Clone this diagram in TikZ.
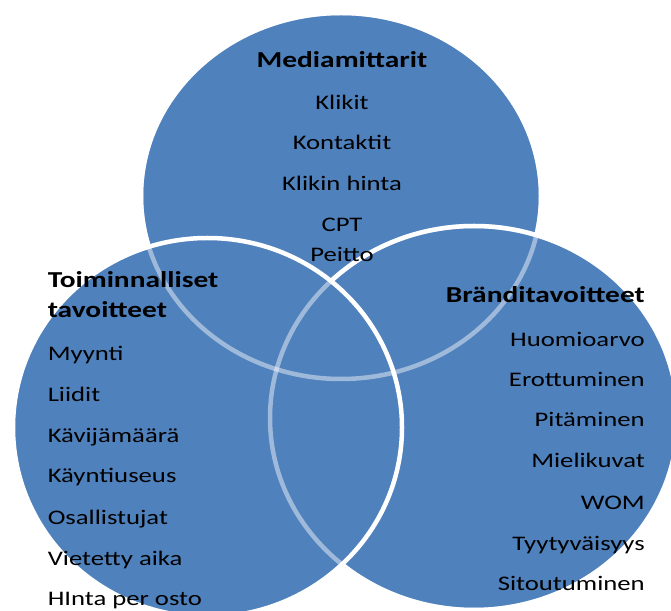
\documentclass[tikz,border=0pt]{standalone}
\usepackage{fontspec}
\setmainfont{Carlito}[FakeStretch=1.29]
\definecolor{vennblue}{HTML}{4F81BD}
\begin{document}
\begin{tikzpicture}[x=1pt,y=1pt,line width=4.5pt]
\tikzset{venn disc/.style={fill=vennblue,draw=white},
  rim style/.style={draw=white,draw opacity=.45},
  item style/.style={font=\fontsize{20.7}{24}\selectfont,inner sep=0pt},
  head style/.style={item style,font=\fontsize{22.8}{26}\selectfont\bfseries}}
\clip (0,0) rectangle (671,610);
% the three sets, top first
\path[venn disc] (341,414) ellipse [x radius=200,y radius=183];
\path[venn disc] (474,192) ellipse [x radius=204,y radius=192];
\path[venn disc] (207.5,182.5) ellipse [x radius=194.5,y radius=189.5];
% hidden rims show through
\path[rim style] (341,414) ellipse [x radius=200,y radius=183];
\path[rim style] (474,192) ellipse [x radius=204,y radius=192];
% Mediamittarit
\node[head style,anchor=base] (media) at (342,542) {Mediamittarit};
\node[item style,anchor=base] (klikit) at (342,500) {Klikit};
\node[item style,anchor=base] (kontaktit) at (342,460) {Kontaktit};
\node[item style,anchor=base] (hinta) at (342,419) {Klikin hinta};
\node[item style,anchor=base] (cpt) at (342,378) {CPT};
\node[item style,anchor=base] (peitto) at (342,348) {Peitto};
% Toiminnalliset tavoitteet
\node[head style,anchor=base west] (toim) at (45.5,322) {Toiminnalliset};
\node[head style,anchor=base west] (tavo) at (45.5,292) {tavoitteet};
\node[item style,anchor=base west] (myynti) at (45.5,249) {Myynti};
\node[item style,anchor=base west] (liidit) at (45.5,208) {Liidit};
\node[item style,anchor=base west] (kavija) at (45.5,167) {Kävijämäärä};
\node[item style,anchor=base west] (kaynti) at (45.5,127) {Käyntiuseus};
\node[item style,anchor=base west] (osall) at (45.5,86) {Osallistujat};
\node[item style,anchor=base west] (aika) at (45.5,45) {Vietetty aika};
\node[item style,anchor=base west] (osto) at (45.5,5) {HInta per osto};
% Bränditavoitteet
\node[head style,anchor=base east] (brandi) at (647,307) {Bränditavoitteet};
\node[item style,anchor=base east] (huomio) at (647,263) {Huomioarvo};
\node[item style,anchor=base east] (erott) at (647,223) {Erottuminen};
\node[item style,anchor=base east] (pita) at (647,183) {Pitäminen};
\node[item style,anchor=base east] (mieli) at (647,142) {Mielikuvat};
\node[item style,anchor=base east] (wom) at (647,101) {WOM};
\node[item style,anchor=base east] (tyyty) at (647,60) {Tyytyväisyys};
\node[item style,anchor=base east] (sitout) at (647,20) {Sitoutuminen};
\end{tikzpicture}
\end{document}
